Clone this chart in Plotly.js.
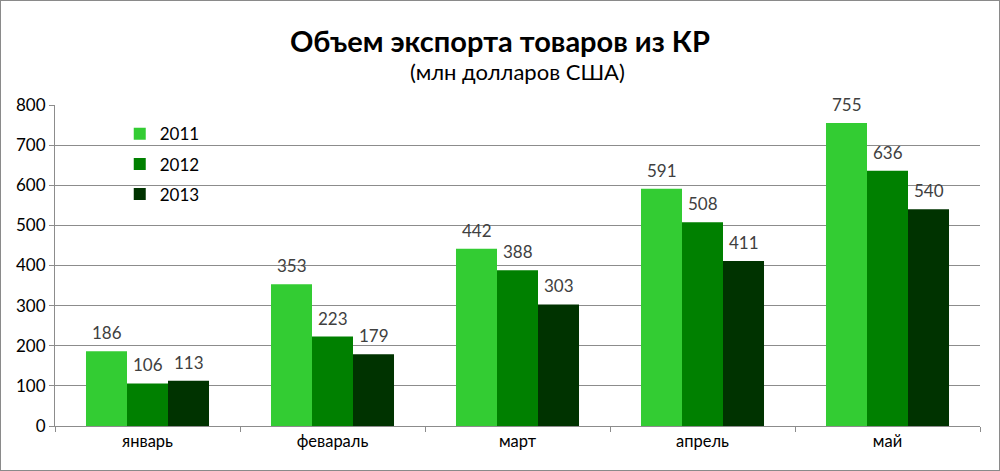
<!DOCTYPE html>
<html><head><meta charset="utf-8">
<script src="https://cdn.plot.ly/plotly-3.0.1.min.js"></script>
<style>
html,body{margin:0;padding:0;background:#fff;}
#chart{width:998px;height:469px;border:1px solid #8a8a8a;}
</style></head>
<body><div id="chart"></div>
<script>
const months = ['январь', 'февараль', 'март', 'апрель', 'май'];
const years = ['2011', '2012', '2013'];
const v2011 = [186, 353, 442, 591, 755];
const v2012 = [106, 223, 388, 508, 636];
const v2013 = [113, 179, 303, 411, 540];
const series = [v2011, v2012, v2013];
const colors = ['#33cc33', '#008000', '#003300'];
const yTicks = [0, 100, 200, 300, 400, 500, 600, 700, 800];

const FONT = 'Lato, Noto Sans, sans-serif';

const traces = series.map((vals, i) => ({
  type: 'bar', name: years[i], x: months, y: vals,
  marker: {color: colors[i]}, legendgroup: years[i],
  hoverinfo: 'none'
}));

const annotations = [];
series.forEach((vals, i) => {
  vals.forEach((v, j) => {
    annotations.push({
      x: months[j], y: v, xref: 'x', yref: 'y', text: String(v),
      showarrow: false, xanchor: 'center', yanchor: 'bottom',
      xshift: (i - 1) * 41, yshift: 6,
      font: {family: FONT, size: 17, color: '#404040'}
    });
  });
});
annotations.push({
  xref: 'paper', yref: 'paper', x: 0.5, y: 1, yshift: 18, xanchor: 'center', yanchor: 'bottom',
  text: '(млн долларов США)', showarrow: false,
  font: {family: FONT, size: 22, color: '#000'}
});

const layout = {
  width: 998, height: 469,
  margin: {l: 54, r: 19, t: 104, b: 44},
  paper_bgcolor: '#fff', plot_bgcolor: '#fff',
  title: {text: '<b>Объем экспорта товаров из КР</b>', x: 0.5, xanchor: 'center', y: 0.912, yanchor: 'middle',
    font: {family: FONT, size: 29, color: '#000'}},
  barmode: 'group', bargap: 0.335, bargroupgap: 0,
  xaxis: {type: 'category', showline: true, linecolor: '#8c8c8c', linewidth: 1,
    ticks: 'outside', tickson: 'boundaries', ticklen: 5, tickcolor: '#8c8c8c',
    tickfont: {family: FONT, size: 16.5, color: '#000'}, showgrid: false, fixedrange: true},
  yaxis: {range: [0, 800], tickvals: yTicks, ticktext: yTicks.map(String),
    showline: true, linecolor: '#8c8c8c', linewidth: 1,
    ticks: 'outside', ticklen: 5, tickcolor: '#8c8c8c',
    showgrid: true, gridcolor: '#8c8c8c', gridwidth: 1, zeroline: false,
    tickfont: {family: FONT, size: 17, color: '#000'}, fixedrange: true},
  showlegend: true,
  legend: {x: 0.07, y: 0.965, xanchor: 'left', yanchor: 'top', traceorder: 'grouped', tracegroupgap: 5,
    itemwidth: 30,
    bgcolor: 'rgba(0,0,0,0)', font: {family: FONT, size: 17, color: '#000'}},
  annotations: annotations
};

Plotly.newPlot('chart', traces, layout, {displayModeBar: false, staticPlot: true});
</script></body></html>
